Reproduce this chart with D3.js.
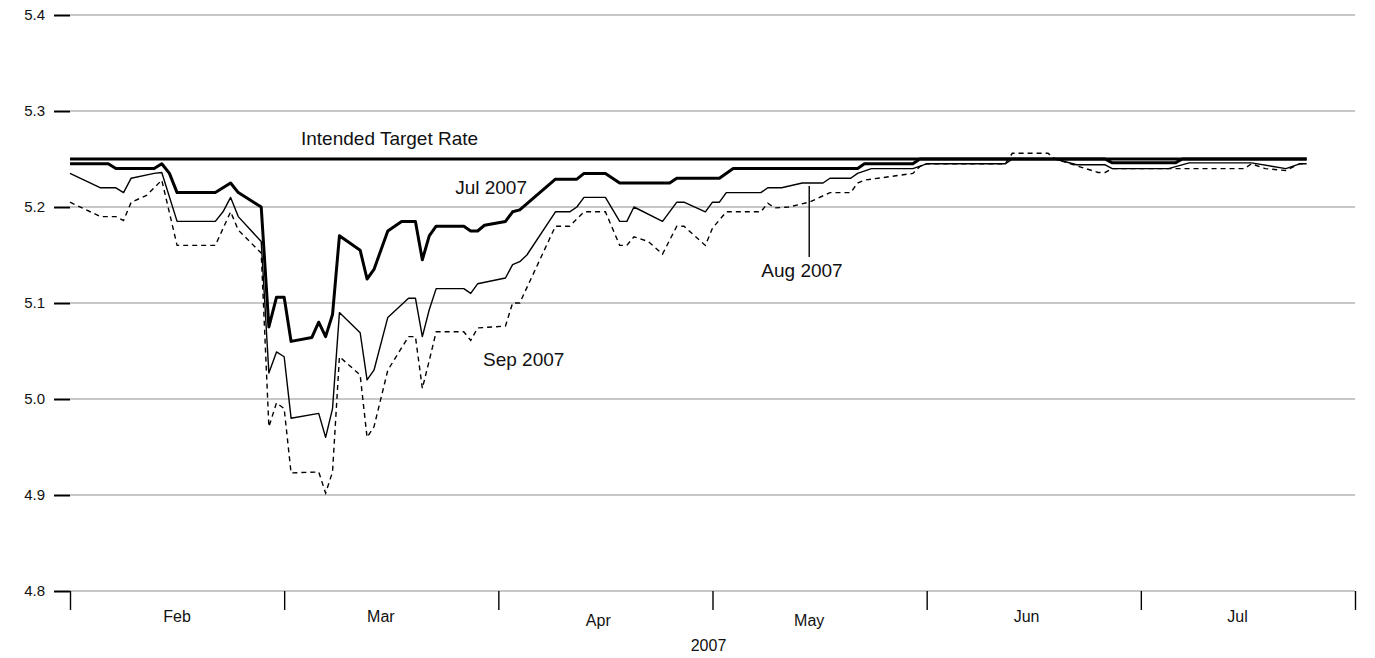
<!DOCTYPE html>
<html>
<head>
<meta charset="utf-8">
<script src="https://cdn.jsdelivr.net/npm/d3@7"></script>
<style>
  body { margin: 0; background: #fff; }
  text { font-family: "Liberation Sans", Arial, Helvetica, sans-serif; fill: #111; }
</style>
</head>
<body>
<script>
// y ticks and month labels
const yTicks = [4.8, 4.9, 5.0, 5.1, 5.2, 5.3, 5.4]
const monthLabels = ["Feb", "Mar", "Apr", "May", "Jun", "Jul"]

// intended target rate
const target = [["2007-02-01", 5.25], ["2007-07-25", 5.25]]

// Jul 2007 futures
const jul = [
  ["2007-02-01", 5.245], ["2007-02-06", 5.245], ["2007-02-07", 5.24], ["2007-02-12", 5.24],
  ["2007-02-13", 5.245], ["2007-02-14", 5.235], ["2007-02-15", 5.215], ["2007-02-20", 5.215],
  ["2007-02-22", 5.225], ["2007-02-23", 5.215], ["2007-02-26", 5.20], ["2007-02-27", 5.075],
  ["2007-02-28", 5.106], ["2007-03-01", 5.106], ["2007-03-02", 5.06], ["2007-03-05", 5.064],
  ["2007-03-06", 5.08], ["2007-03-07", 5.065], ["2007-03-08", 5.088], ["2007-03-09", 5.17],
  ["2007-03-12", 5.155], ["2007-03-13", 5.125], ["2007-03-14", 5.135], ["2007-03-16", 5.175],
  ["2007-03-18", 5.185], ["2007-03-20", 5.185], ["2007-03-21", 5.145], ["2007-03-22", 5.17],
  ["2007-03-23", 5.18], ["2007-03-27", 5.18], ["2007-03-28", 5.175], ["2007-03-29", 5.175],
  ["2007-03-30", 5.181], ["2007-04-02", 5.185], ["2007-04-03", 5.195], ["2007-04-04", 5.197],
  ["2007-04-09", 5.229], ["2007-04-12", 5.229], ["2007-04-13", 5.235], ["2007-04-16", 5.235],
  ["2007-04-18", 5.225], ["2007-04-25", 5.225], ["2007-04-26", 5.23], ["2007-05-02", 5.23],
  ["2007-05-04", 5.24], ["2007-05-22", 5.24], ["2007-05-23", 5.245], ["2007-05-30", 5.245],
  ["2007-05-31", 5.25], ["2007-06-26", 5.25], ["2007-06-27", 5.246], ["2007-07-06", 5.246],
  ["2007-07-07", 5.25], ["2007-07-25", 5.25]
]

// Aug 2007 futures
const aug = [
  ["2007-02-01", 5.235], ["2007-02-05", 5.22], ["2007-02-07", 5.22], ["2007-02-08", 5.215],
  ["2007-02-09", 5.23], ["2007-02-12", 5.235], ["2007-02-13", 5.236], ["2007-02-15", 5.185],
  ["2007-02-20", 5.185], ["2007-02-21", 5.195], ["2007-02-22", 5.21], ["2007-02-23", 5.19],
  ["2007-02-26", 5.164], ["2007-02-27", 5.027], ["2007-02-28", 5.049], ["2007-03-01", 5.044],
  ["2007-03-02", 4.98], ["2007-03-06", 4.985], ["2007-03-07", 4.96], ["2007-03-08", 4.99],
  ["2007-03-09", 5.09], ["2007-03-12", 5.069], ["2007-03-13", 5.02], ["2007-03-14", 5.03],
  ["2007-03-16", 5.085], ["2007-03-19", 5.105], ["2007-03-20", 5.105], ["2007-03-21", 5.065],
  ["2007-03-22", 5.093], ["2007-03-23", 5.115], ["2007-03-27", 5.115], ["2007-03-28", 5.11],
  ["2007-03-29", 5.12], ["2007-04-02", 5.126], ["2007-04-03", 5.14], ["2007-04-04", 5.143],
  ["2007-04-05", 5.15], ["2007-04-09", 5.195], ["2007-04-11", 5.195], ["2007-04-12", 5.20],
  ["2007-04-13", 5.21], ["2007-04-16", 5.21], ["2007-04-18", 5.185], ["2007-04-19", 5.185],
  ["2007-04-20", 5.20], ["2007-04-24", 5.185], ["2007-04-26", 5.205], ["2007-04-27", 5.205],
  ["2007-04-30", 5.195], ["2007-05-01", 5.205], ["2007-05-02", 5.205], ["2007-05-03", 5.215],
  ["2007-05-08", 5.215], ["2007-05-09", 5.22], ["2007-05-11", 5.22], ["2007-05-14", 5.225],
  ["2007-05-17", 5.225], ["2007-05-18", 5.23], ["2007-05-21", 5.23], ["2007-05-22", 5.235],
  ["2007-05-24", 5.24], ["2007-05-30", 5.24], ["2007-06-01", 5.245], ["2007-06-12", 5.245],
  ["2007-06-13", 5.25], ["2007-06-19", 5.25], ["2007-06-22", 5.244], ["2007-06-26", 5.244],
  ["2007-06-27", 5.24], ["2007-07-05", 5.24], ["2007-07-08", 5.246], ["2007-07-17", 5.246],
  ["2007-07-22", 5.24], ["2007-07-24", 5.245], ["2007-07-25", 5.245]
]

// Sep 2007 futures
const sep = [
  ["2007-02-01", 5.205], ["2007-02-05", 5.19], ["2007-02-07", 5.19], ["2007-02-08", 5.186],
  ["2007-02-09", 5.205], ["2007-02-11", 5.212], ["2007-02-13", 5.228], ["2007-02-15", 5.16],
  ["2007-02-20", 5.16], ["2007-02-22", 5.195], ["2007-02-23", 5.176], ["2007-02-26", 5.152],
  ["2007-02-27", 4.971], ["2007-02-28", 4.996], ["2007-03-01", 4.99], ["2007-03-02", 4.923],
  ["2007-03-06", 4.924], ["2007-03-07", 4.902], ["2007-03-08", 4.924], ["2007-03-09", 5.044],
  ["2007-03-12", 5.025], ["2007-03-13", 4.96], ["2007-03-14", 4.971], ["2007-03-16", 5.03],
  ["2007-03-19", 5.065], ["2007-03-20", 5.065], ["2007-03-21", 5.011], ["2007-03-22", 5.04],
  ["2007-03-23", 5.07], ["2007-03-27", 5.07], ["2007-03-28", 5.061], ["2007-03-29", 5.074],
  ["2007-04-02", 5.076], ["2007-04-03", 5.10], ["2007-04-04", 5.10], ["2007-04-09", 5.18],
  ["2007-04-11", 5.18], ["2007-04-13", 5.195], ["2007-04-16", 5.195], ["2007-04-18", 5.16],
  ["2007-04-19", 5.16], ["2007-04-20", 5.169], ["2007-04-22", 5.164], ["2007-04-24", 5.151],
  ["2007-04-26", 5.18], ["2007-04-27", 5.18], ["2007-04-30", 5.16], ["2007-05-01", 5.178],
  ["2007-05-03", 5.195], ["2007-05-08", 5.195], ["2007-05-09", 5.204], ["2007-05-10", 5.199],
  ["2007-05-12", 5.20], ["2007-05-15", 5.205], ["2007-05-18", 5.215], ["2007-05-21", 5.215],
  ["2007-05-22", 5.225], ["2007-05-23", 5.228], ["2007-05-30", 5.235], ["2007-05-31", 5.242],
  ["2007-06-01", 5.245], ["2007-06-12", 5.245], ["2007-06-13", 5.256], ["2007-06-18", 5.256],
  ["2007-06-19", 5.25], ["2007-06-25", 5.236], ["2007-06-26", 5.236], ["2007-06-27", 5.24],
  ["2007-07-16", 5.24], ["2007-07-17", 5.245], ["2007-07-19", 5.24], ["2007-07-22", 5.238],
  ["2007-07-24", 5.245], ["2007-07-25", 5.245]
]

const width = 1375, height = 658
const plotLeft = 70, plotRight = 1355, plotTop = 15, plotBottom = 591
const parse = d3.timeParse("%Y-%m-%d")

const svg = d3.select("body").append("svg")
  .attr("width", width)
  .attr("height", height)

// every month gets the same width
const monthStarts = d3.timeMonth.range(new Date(2007, 1, 1), new Date(2007, 7, 2))
const x = d3.scaleTime()
  .domain(monthStarts)
  .range(monthStarts.map((d, i) => plotLeft + i * (plotRight - plotLeft) / (monthStarts.length - 1)))

const y = d3.scaleLinear()
  .domain([4.8, 5.4])
  .range([plotBottom, plotTop])

// gridlines
svg.append("g")
  .selectAll("line")
  .data(yTicks)
  .enter().append("line")
  .attr("x1", plotLeft)
  .attr("x2", plotRight)
  .attr("y1", d => y(d))
  .attr("y2", d => y(d))
  .attr("stroke", "#b5b5b5")
  .attr("stroke-width", 1.5)

// y axis
const yAxis = svg.append("g")
  .attr("transform", `translate(${plotLeft},0)`)
  .call(d3.axisLeft(y).tickValues(yTicks).tickSize(16).tickPadding(9).tickFormat(d3.format(".1f")))
yAxis.select(".domain").remove()
yAxis.selectAll("line").attr("stroke", "#000").attr("stroke-width", 2)
yAxis.selectAll("text").attr("font-size", 15).attr("fill", "#111")
  .style("font-family", "'Liberation Sans', Arial, sans-serif")

// x axis ticks at month starts
const xAxis = svg.append("g")
  .attr("transform", `translate(0,${plotBottom})`)
  .call(d3.axisBottom(x).tickValues(monthStarts).tickSize(19).tickFormat(""))
xAxis.select(".domain").remove()
xAxis.selectAll("line").attr("stroke", "#000").attr("stroke-width", 1.4)

// month labels at the middle of each month
svg.append("g")
  .selectAll("text")
  .data(monthLabels)
  .enter().append("text")
  .attr("x", (d, i) => x(new Date(2007, i + 1, 15)))
  .attr("y", (d, i) => (d == "Apr" || d == "May") ? 626 : 622)
  .attr("text-anchor", "middle")
  .attr("font-size", 16)
  .text(d => d)

svg.append("text")
  .attr("x", (plotLeft + plotRight) / 2 - 4)
  .attr("y", 651)
  .attr("text-anchor", "middle")
  .attr("font-size", 16)
  .text("2007")

const line = d3.line()
  .x(d => x(parse(d[0])))
  .y(d => y(d[1]))

svg.append("path").datum(sep)
  .attr("d", line)
  .attr("fill", "none")
  .attr("stroke", "#000")
  .attr("stroke-width", 1.4)
  .attr("stroke-dasharray", "5,4")

svg.append("path").datum(aug)
  .attr("d", line)
  .attr("fill", "none")
  .attr("stroke", "#000")
  .attr("stroke-width", 1.4)
  .attr("stroke-linejoin", "round")

svg.append("path").datum(jul)
  .attr("d", line)
  .attr("fill", "none")
  .attr("stroke", "#000")
  .attr("stroke-width", 3)
  .attr("stroke-linejoin", "round")

svg.append("path").datum(target)
  .attr("d", line)
  .attr("fill", "none")
  .attr("stroke", "#000")
  .attr("stroke-width", 3)

// labels
svg.append("text")
  .attr("x", 301).attr("y", 145)
  .attr("font-size", 19)
  .text("Intended Target Rate")

svg.append("text")
  .attr("x", 527).attr("y", 194)
  .attr("text-anchor", "end")
  .attr("font-size", 19)
  .text("Jul 2007")

svg.append("line")
  .attr("x1", x(parse("2007-05-15"))).attr("x2", x(parse("2007-05-15")))
  .attr("y1", y(5.222)).attr("y2", y(5.148))
  .attr("stroke", "#000")
  .attr("stroke-width", 1.4)

svg.append("text")
  .attr("x", 802).attr("y", 277)
  .attr("text-anchor", "middle")
  .attr("font-size", 19)
  .text("Aug 2007")

svg.append("text")
  .attr("x", 483).attr("y", 366)
  .attr("font-size", 19)
  .text("Sep 2007")
</script>
</body>
</html>
